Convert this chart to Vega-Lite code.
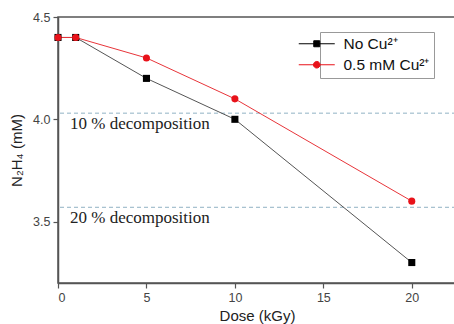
{
  "$schema": "https://vega.github.io/schema/vega-lite/v6.json",
  "width": 398,
  "height": 266,
  "autosize": "none",
  "padding": {"left": 58, "top": 17, "right": 0, "bottom": 41},
  "background": "white",
  "config": {
    "view": {"stroke": "#555", "strokeWidth": 1.5},
    "axis": {
      "grid": false,
      "domainColor": "#555",
      "domainWidth": 1.5,
      "tickColor": "#555",
      "tickWidth": 1.2,
      "tickSize": 5,
      "labelColor": "#444",
      "labelFont": "Liberation Sans",
      "labelFontSize": 12.5,
      "labelPadding": 3,
      "titleFont": "Liberation Sans",
      "titleFontSize": 15,
      "titleFontWeight": "normal",
      "titleColor": "#222"
    },
    "axisX": {"titlePadding": 5},
    "axisY": {"titlePadding": 8}
  },
  "resolve": {"scale": {"color": "independent", "shape": "independent"}, "legend": {"color": "independent", "shape": "independent"}},
  "datasets": {
    "points": [
      {"dose": 0, "n2h4": 4.4, "series": "No Cu²⁺"},
      {"dose": 1, "n2h4": 4.4, "series": "No Cu²⁺"},
      {"dose": 5, "n2h4": 4.2, "series": "No Cu²⁺"},
      {"dose": 10, "n2h4": 4.0, "series": "No Cu²⁺"},
      {"dose": 20, "n2h4": 3.3, "series": "No Cu²⁺"},
      {"dose": 0, "n2h4": 4.4, "series": "0.5 mM Cu²⁺"},
      {"dose": 1, "n2h4": 4.4, "series": "0.5 mM Cu²⁺"},
      {"dose": 5, "n2h4": 4.3, "series": "0.5 mM Cu²⁺"},
      {"dose": 10, "n2h4": 4.1, "series": "0.5 mM Cu²⁺"},
      {"dose": 20, "n2h4": 3.6, "series": "0.5 mM Cu²⁺"}
    ],
    "levels": [
      {"level": 4.03, "label": "10 % decomposition"},
      {"level": 3.57, "label": "20 % decomposition"}
    ]
  },
  "layer": [
    {
      "data": {"name": "points"},
      "mark": {"type": "point", "filled": true, "opacity": 1},
      "encoding": {
        "x": {
          "field": "dose", "type": "quantitative",
          "scale": {"domain": [0, 22.5], "nice": false},
          "axis": {"title": "Dose (kGy)", "values": [0, 5, 10, 15, 20], "format": "d"}
        },
        "y": {
          "field": "n2h4", "type": "quantitative",
          "scale": {"domain": [3.2, 4.5], "nice": false, "zero": false},
          "axis": {"title": "N₂H₄ (mM)", "values": [3.5, 4.0, 4.5], "format": ".1f"}
        },
        "color": {
          "field": "series", "type": "nominal",
          "scale": {"domain": ["No Cu²⁺", "0.5 mM Cu²⁺"], "range": ["#000000", "#e8121a"]},
          "legend": {
            "title": null,
            "orient": "none",
            "legendX": 262,
            "legendY": 15,
            "strokeColor": "#999",
            "fillColor": "white",
            "padding": 4,
            "labelFont": "Liberation Sans",
            "labelFontSize": 15.5,
            "labelColor": "#111",
            "labelOffset": 4,
            "symbolSize": 144,
            "symbolStrokeWidth": 1,
            "rowPadding": 4,
            "encoding": {
              "symbols": {
                "shape": {"condition": {"test": "datum.value == 'No Cu²⁺'", "value": "M-5.5,0H0.5M-3,-0.5H-2V0.5H-3Z"}, "value": "M-5.5,0H0.5M-3.05,0A0.55,0.55 0 1,1 -1.95,0A0.55,0.55 0 1,1 -3.05,0Z"},
                "stroke": {"condition": {"test": "datum.value == 'No Cu²⁺'", "value": "#000000"}, "value": "#e8121a"},
                "strokeWidth": {"value": 1}
              }
            }
          }
        },
        "size": {"value": 28}
      }
    },
    {
      "data": {"name": "levels"},
      "mark": {"type": "rule", "strokeDash": [4, 3], "color": "#90b2c4", "strokeWidth": 1},
      "encoding": {
        "y": {"field": "level", "type": "quantitative", "axis": {"title": "N₂H₄ (mM)", "values": [3.5, 4.0, 4.5], "format": ".1f"}}
      }
    },
    {
      "data": {"name": "levels"},
      "mark": {"type": "text", "align": "left", "baseline": "middle", "dx": 12, "dy": 11, "font": "Liberation Serif", "fontSize": 17, "color": "#222"},
      "encoding": {
        "x": {"datum": 0, "type": "quantitative", "axis": {"title": "Dose (kGy)", "values": [0, 5, 10, 15, 20], "format": "d"}},
        "y": {"field": "level", "type": "quantitative", "axis": {"title": "N₂H₄ (mM)", "values": [3.5, 4.0, 4.5], "format": ".1f"}},
        "text": {"field": "label"}
      }
    },
    {
      "data": {"name": "points"},
      "mark": {"type": "line", "strokeWidth": 1},
      "encoding": {
        "x": {"field": "dose", "type": "quantitative", "axis": {"title": "Dose (kGy)", "values": [0, 5, 10, 15, 20], "format": "d"}},
        "y": {"field": "n2h4", "type": "quantitative", "axis": {"title": "N₂H₄ (mM)", "values": [3.5, 4.0, 4.5], "format": ".1f"}},
        "color": {"field": "series", "type": "nominal", "scale": {"domain": ["No Cu²⁺", "0.5 mM Cu²⁺"], "range": ["#555555", "#e8353a"]}, "legend": null}
      }
    },
    {
      "data": {"name": "points"},
      "mark": {"type": "point", "filled": true, "opacity": 1, "size": 50},
      "encoding": {
        "x": {"field": "dose", "type": "quantitative", "axis": {"title": "Dose (kGy)", "values": [0, 5, 10, 15, 20], "format": "d"}},
        "y": {"field": "n2h4", "type": "quantitative", "axis": {"title": "N₂H₄ (mM)", "values": [3.5, 4.0, 4.5], "format": ".1f"}},
        "color": {"field": "series", "type": "nominal", "scale": {"domain": ["No Cu²⁺", "0.5 mM Cu²⁺"], "range": ["#000000", "#e8121a"]}, "legend": null},
        "shape": {"field": "series", "type": "nominal", "scale": {"domain": ["No Cu²⁺", "0.5 mM Cu²⁺"], "range": ["square", "circle"]}, "legend": null}
      }
    }
  ]
}
